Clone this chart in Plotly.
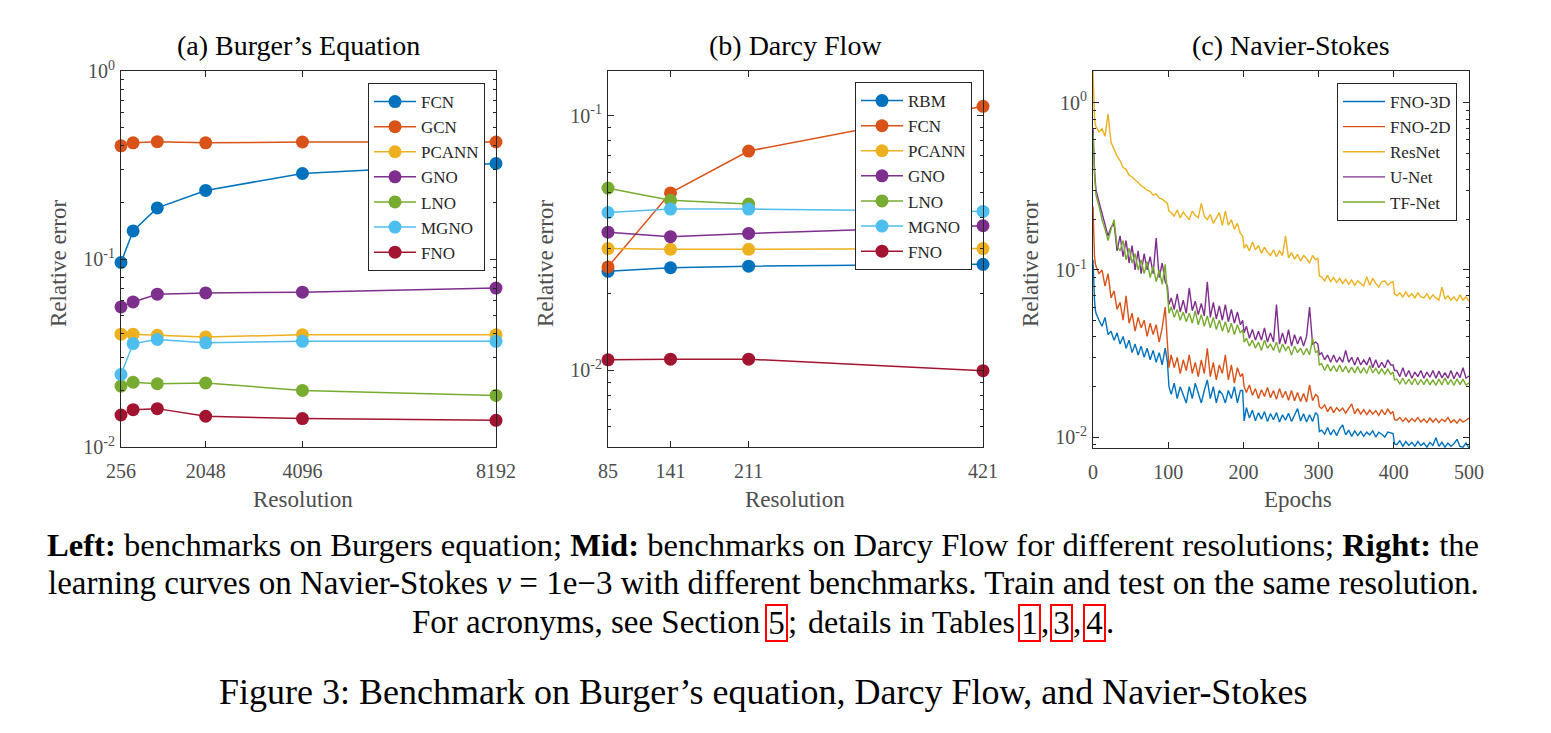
import math
import plotly.graph_objects as go

# page body keeps an 8px margin; the figure is sized to fit inside it
OFF = 8
FW, FH = 1535, 712
SERIF = "Liberation Serif, Times New Roman, serif"
C_BLUE, C_ORANGE, C_YELLOW, C_PURPLE = "#0072BD", "#D95319", "#EDB120", "#7E2F8E"
C_GREEN, C_LBLUE, C_RED = "#77AC30", "#4DBEEE", "#A2142F"
AX = "#262626"
TXT = "#4d4d4d"

# ---------------- (a) Burger's equation ----------------
burgers_res = [256, 512, 1024, 2048, 4096, 8192]
burgers_names = ["FCN", "GCN", "PCANN", "GNO", "LNO", "MGNO", "FNO"]
burgers_fcn = [0.0958, 0.141, 0.187, 0.2315, 0.285, 0.322]
burgers_gcn = [0.400, 0.415, 0.421, 0.415, 0.419, 0.419]
burgers_pcann = [0.0398, 0.0398, 0.0393, 0.0385, 0.0395, 0.0395]
burgers_gno = [0.0556, 0.0591, 0.065, 0.066, 0.0666, 0.070]
burgers_lno = [0.0211, 0.0221, 0.0217, 0.0219, 0.0200, 0.0188]
burgers_mgno = [0.0243, 0.0355, 0.0373, 0.0358, 0.0365, 0.0365]
burgers_fno = [0.0148, 0.0158, 0.0160, 0.01457, 0.01416, 0.01387]

# ---------------- (b) Darcy flow ----------------
darcy_res = [85, 141, 211, 421]
darcy_names = ["RBM", "FCN", "PCANN", "GNO", "LNO", "MGNO", "FNO"]
darcy_rbm = [0.0245, 0.0253, 0.02566, 0.0261]
darcy_fcn = [0.0255, 0.0498, 0.0727, 0.109]
darcy_pcann = [0.0301, 0.0299, 0.0299, 0.0301]
darcy_gno = [0.0349, 0.0335, 0.0345, 0.0370]
darcy_lno_res = [85, 141, 211]
darcy_lno = [0.052, 0.0466, 0.045]
darcy_mgno = [0.0417, 0.0430, 0.0430, 0.0421]
darcy_fno = [0.0110, 0.01107, 0.01107, 0.00997]

# ---------------- (c) Navier-Stokes learning curves ----------------
epochs = ([0, 1, 2, 3] + list(range(4, 97, 4)) + [99, 101] + list(range(104, 197, 4)) + [199, 201]
          + list(range(204, 297, 4)) + [299, 301] + list(range(304, 397, 4)) + [399, 401]
          + list(range(404, 501, 4)))

ns_resnet = [1.55, 0.95, 0.82, 0.75,
             0.72, 0.67, 0.7, 0.63, 0.86, 0.58, 0.53, 0.48, 0.45, 0.41, 0.4, 0.37, 0.36, 0.345, 0.33, 0.32, 0.31, 0.3, 0.295, 0.28, 0.285, 0.27, 0.265, 0.255,
             0.25, 0.225,
             0.22, 0.21, 0.228, 0.205, 0.222, 0.21, 0.2, 0.225, 0.212, 0.205, 0.25, 0.21, 0.2, 0.215, 0.19, 0.205, 0.22, 0.185, 0.225, 0.185, 0.2, 0.175, 0.19, 0.165,
             0.16, 0.135,
             0.142, 0.13, 0.147, 0.132, 0.14, 0.126, 0.137, 0.128, 0.122, 0.132, 0.12, 0.13, 0.122, 0.16, 0.118, 0.127, 0.116, 0.124, 0.113, 0.122, 0.117, 0.11, 0.122, 0.115,
             0.118, 0.092,
             0.091, 0.086, 0.093, 0.085, 0.09, 0.084, 0.089, 0.083, 0.088, 0.082, 0.087, 0.081, 0.086, 0.083, 0.08, 0.091, 0.081, 0.089, 0.083, 0.079, 0.085, 0.086, 0.081, 0.084,
             0.085, 0.072,
             0.07, 0.073, 0.069, 0.074, 0.069, 0.072, 0.068, 0.073, 0.069, 0.068, 0.072, 0.067, 0.071, 0.068, 0.066, 0.079, 0.067, 0.07, 0.066, 0.069, 0.065, 0.071, 0.066, 0.069, 0.065]

ns_unet = [0.70, 0.48, 0.40, 0.34,
           0.3, 0.255, 0.22, 0.19, 0.16, 0.18, 0.19, 0.13, 0.16, 0.12, 0.15, 0.11, 0.14, 0.1, 0.13, 0.095, 0.125, 0.1, 0.12, 0.095, 0.155, 0.09, 0.11, 0.085,
           0.08, 0.062,
           0.068, 0.058, 0.072, 0.056, 0.066, 0.055, 0.078, 0.057, 0.065, 0.054, 0.063, 0.053, 0.085, 0.052, 0.064, 0.051, 0.061, 0.05, 0.062, 0.049, 0.058, 0.048, 0.056, 0.047,
           0.05, 0.042,
           0.046, 0.039, 0.044, 0.038, 0.043, 0.038, 0.045, 0.037, 0.042, 0.037, 0.062, 0.036, 0.042, 0.036, 0.044, 0.035, 0.041, 0.036, 0.04, 0.035, 0.04, 0.06, 0.036, 0.037,
           0.036, 0.031,
           0.032, 0.029, 0.031, 0.028, 0.031, 0.028, 0.03, 0.028, 0.033, 0.028, 0.03, 0.027, 0.03, 0.027, 0.029, 0.027, 0.03, 0.026, 0.029, 0.026, 0.028, 0.026, 0.029, 0.027,
           0.027, 0.025,
           0.025, 0.023, 0.026, 0.023, 0.025, 0.0225, 0.0245, 0.023, 0.025, 0.0225, 0.0245, 0.0228, 0.025, 0.0225, 0.0248, 0.0226, 0.0243, 0.0225, 0.025, 0.0223, 0.0245, 0.0227, 0.026, 0.0225, 0.0232]

ns_tfnet = [0.66, 0.45, 0.37, 0.32,
            0.28, 0.24, 0.2, 0.175, 0.15, 0.175, 0.2, 0.14, 0.13, 0.15, 0.115, 0.135, 0.11, 0.125, 0.1, 0.115, 0.095, 0.112, 0.09, 0.105, 0.085, 0.1, 0.082, 0.108,
            0.075, 0.055,
            0.06, 0.052, 0.058, 0.05, 0.056, 0.049, 0.055, 0.048, 0.057, 0.047, 0.054, 0.046, 0.053, 0.045, 0.052, 0.044, 0.05, 0.043, 0.049, 0.042, 0.048, 0.041, 0.047, 0.042,
            0.044, 0.037,
            0.039, 0.035, 0.038, 0.034, 0.037, 0.033, 0.038, 0.034, 0.036, 0.033, 0.037, 0.032, 0.036, 0.033, 0.035, 0.031, 0.035, 0.032, 0.034, 0.031, 0.034, 0.031, 0.039, 0.032,
            0.033, 0.027,
            0.0275, 0.025, 0.0272, 0.0248, 0.0268, 0.0246, 0.027, 0.0245, 0.0265, 0.0243, 0.0262, 0.0242, 0.0264, 0.0241, 0.026, 0.024, 0.0268, 0.0242, 0.0258, 0.0239, 0.0256, 0.0238, 0.0255, 0.0237,
            0.0245, 0.022,
            0.0222, 0.0208, 0.0225, 0.0207, 0.0222, 0.0206, 0.0224, 0.0205, 0.0221, 0.0206, 0.0223, 0.0205, 0.022, 0.0204, 0.0222, 0.0205, 0.0226, 0.0206, 0.0221, 0.0204, 0.0223, 0.0206, 0.0222, 0.0205, 0.021]

ns_fno2d = [0.24, 0.125, 0.12, 0.11,
            0.105, 0.095, 0.1, 0.08, 0.095, 0.068, 0.075, 0.058, 0.064, 0.05, 0.07, 0.048, 0.055, 0.043, 0.052, 0.045, 0.05, 0.04, 0.048, 0.041, 0.047, 0.037, 0.045, 0.06,
            0.036, 0.026,
            0.031, 0.026, 0.03, 0.024, 0.029, 0.025, 0.031, 0.024, 0.028, 0.023, 0.029, 0.024, 0.034, 0.023, 0.028, 0.022, 0.027, 0.024, 0.031, 0.022, 0.027, 0.021, 0.026, 0.023,
            0.024, 0.02,
            0.0185, 0.0205, 0.0178, 0.0195, 0.017, 0.0192, 0.0175, 0.0198, 0.0172, 0.019, 0.0168, 0.0195, 0.0172, 0.0188, 0.0166, 0.019, 0.0165, 0.0185, 0.0163, 0.0182, 0.0162, 0.0205, 0.0165, 0.018,
            0.0175, 0.0152,
            0.0148, 0.0156, 0.0142, 0.0152, 0.014, 0.015, 0.0143, 0.0149, 0.0139, 0.0147, 0.0158, 0.0138, 0.0148, 0.0137, 0.0146, 0.0136, 0.0145, 0.0137, 0.0144, 0.0135, 0.0146, 0.0136, 0.0147, 0.0138,
            0.0142, 0.0127,
            0.0126, 0.0131, 0.0124, 0.013, 0.0123, 0.0129, 0.0124, 0.0131, 0.0123, 0.0128, 0.0122, 0.013, 0.0123, 0.0129, 0.0122, 0.0128, 0.0124, 0.0131, 0.0122, 0.0127, 0.0121, 0.0128, 0.0123, 0.0126, 0.013]

ns_fno3d = [0.115, 0.08, 0.066, 0.058,
            0.055, 0.05, 0.046, 0.052, 0.041, 0.043, 0.038, 0.042, 0.036, 0.04, 0.034, 0.038, 0.032, 0.036, 0.031, 0.035, 0.03, 0.034, 0.029, 0.033, 0.028, 0.032, 0.027, 0.034,
            0.028, 0.02,
            0.018, 0.021, 0.017, 0.02, 0.018, 0.016, 0.02, 0.017, 0.021, 0.018, 0.016, 0.019, 0.022, 0.017, 0.02, 0.016, 0.019, 0.018, 0.016, 0.019, 0.017, 0.02, 0.016, 0.019,
            0.019, 0.0125,
            0.015, 0.013, 0.0145, 0.0125, 0.014, 0.0128, 0.0142, 0.0124, 0.0138, 0.0127, 0.014, 0.0123, 0.0136, 0.0126, 0.0139, 0.0124, 0.0135, 0.0148, 0.0125, 0.0138, 0.0123, 0.0136, 0.0124, 0.014,
            0.0135, 0.0108,
            0.011, 0.0104, 0.0114, 0.0103, 0.0111, 0.0102, 0.0112, 0.0118, 0.0103, 0.011, 0.0101, 0.0109, 0.0102, 0.0108, 0.0101, 0.0107, 0.0103, 0.0109, 0.01, 0.0107, 0.0104, 0.01, 0.0107, 0.0106,
            0.0105, 0.0091,
            0.009, 0.0095, 0.0088, 0.0094, 0.0089, 0.0093, 0.0088, 0.0094, 0.0089, 0.0092, 0.0087, 0.0093, 0.0089, 0.0099, 0.0088, 0.0093, 0.0087, 0.0092, 0.0088, 0.0091, 0.0097, 0.0088, 0.0087, 0.0092, 0.0086]

ns_names = ["FNO-3D", "FNO-2D", "ResNet", "U-Net", "TF-Net"]

# ---------------- figure ----------------
fig = go.Figure()

colors7 = [C_BLUE, C_ORANGE, C_YELLOW, C_PURPLE, C_GREEN, C_LBLUE, C_RED]
burg_series = [burgers_fcn, burgers_gcn, burgers_pcann, burgers_gno, burgers_lno, burgers_mgno, burgers_fno]
for name, ys, col in zip(burgers_names, burg_series, colors7):
    fig.add_trace(go.Scatter(x=burgers_res, y=ys, name=name, mode="lines+markers",
                             line=dict(color=col, width=1.5), marker=dict(color=col, size=13),
                             cliponaxis=False, xaxis="x", yaxis="y", legend="legend"))

darcy_series = [(darcy_res, darcy_rbm), (darcy_res, darcy_fcn), (darcy_res, darcy_pcann), (darcy_res, darcy_gno),
                (darcy_lno_res, darcy_lno), (darcy_res, darcy_mgno), (darcy_res, darcy_fno)]
for name, (xs, ys), col in zip(darcy_names, darcy_series, colors7):
    fig.add_trace(go.Scatter(x=xs, y=ys, name=name, mode="lines+markers",
                             line=dict(color=col, width=1.5), marker=dict(color=col, size=13),
                             cliponaxis=False, xaxis="x2", yaxis="y2", legend="legend2"))

ns_series = [ns_fno3d, ns_fno2d, ns_resnet, ns_unet, ns_tfnet]
ns_colors = [C_BLUE, C_ORANGE, C_YELLOW, C_PURPLE, C_GREEN]
for name, ys, col in zip(ns_names, ns_series, ns_colors):
    fig.add_trace(go.Scatter(x=epochs, y=ys, name=name, mode="lines",
                             line=dict(color=col, width=1.4),
                             xaxis="x3", yaxis="y3", legend="legend3"))


def px_x(p):
    return (p - OFF) / FW


def px_y(p):
    return 1 - (p - OFF) / FH


def minor_vals(lo_exp, hi_exp):
    vals = []
    for e in range(lo_exp, hi_exp + 1):
        for m in range(2, 10):
            vals.append(m * 10 ** e)
    return vals


base_axis = dict(showline=True, linecolor=AX, linewidth=1, mirror="ticks", ticks="inside",
                 ticklen=6, tickwidth=1, tickcolor=AX, showgrid=False, zeroline=False,
                 automargin=False, tickfont=dict(family=SERIF, size=20, color=TXT))

ydom_top = px_y(71)
ydom_bot = px_y(447)

fig.update_layout(
    width=FW, height=FH, margin=dict(l=0, r=0, t=0, b=0, pad=0, autoexpand=False),
    autosize=False,
    paper_bgcolor="white", plot_bgcolor="white",
    font=dict(family=SERIF, color=TXT),
    xaxis=dict(base_axis, domain=[px_x(121), px_x(496)], range=[256, 8192],
               tickmode="array", tickvals=[256, 2048, 4096, 8192], ticklabelstandoff=6, anchor="y"),
    yaxis=dict(base_axis, domain=[ydom_bot, ydom_top], type="log", range=[-2, 0],
               tickmode="array", tickvals=[0.01, 0.1, 1],
               ticktext=["10<sup>-2</sup>", "10<sup>-1</sup>", "10<sup>0</sup>"],
               minor=dict(ticks="inside", ticklen=3, tickcolor=AX, tickmode="array",
                          tickvals=minor_vals(-2, -1)),
               ticklabelstandoff=1, anchor="x"),
    xaxis2=dict(base_axis, domain=[px_x(608), px_x(983)], range=[85, 421],
                tickmode="array", tickvals=[85, 141, 211, 421], ticklabelstandoff=6, anchor="y2"),
    yaxis2=dict(base_axis, domain=[ydom_bot, ydom_top], type="log",
                range=[math.log10(0.005), math.log10(0.15)],
                tickmode="array", tickvals=[0.01, 0.1],
                ticktext=["10<sup>-2</sup>", "10<sup>-1</sup>"],
                minor=dict(ticks="inside", ticklen=3, tickcolor=AX, tickmode="array",
                           tickvals=minor_vals(-3, -1)),
                ticklabelstandoff=1, anchor="x2"),
    xaxis3=dict(base_axis, domain=[px_x(1093), px_x(1469)], range=[0, 500],
                tickmode="array", tickvals=[0, 100, 200, 300, 400, 500], ticklabelstandoff=6, anchor="y3"),
    yaxis3=dict(base_axis, domain=[px_y(448), ydom_top], type="log",
                range=[math.log10(0.0086), math.log10(1.55)],
                tickmode="array", tickvals=[0.01, 0.1, 1],
                ticktext=["10<sup>-2</sup>", "10<sup>-1</sup>", "10<sup>0</sup>"],
                minor=dict(ticks="inside", ticklen=3, tickcolor=AX, tickmode="array",
                           tickvals=minor_vals(-3, 0)),
                ticklabelstandoff=1, anchor="x3"),
    showlegend=True,
)

leg_common = dict(xanchor="right", yanchor="top", bordercolor=AX, borderwidth=1, bgcolor="white",
                  font=dict(family=SERIF, size=17, color=AX), tracegroupgap=0, itemwidth=42)
fig.update_layout(
    legend=dict(leg_common, x=px_x(485), y=px_y(83)),
    legend2=dict(leg_common, x=px_x(972), y=px_y(82)),
    legend3=dict(leg_common, x=px_x(1457), y=px_y(83)),
)

annotations = []


def add_text(text, x, y, size, color="black", angle=0, xanchor="center", **kw):
    annotations.append(dict(text=text, x=px_x(x), y=px_y(y), xref="paper", yref="paper",
                            showarrow=False, xanchor=xanchor, yanchor="middle", textangle=angle,
                            font=dict(family=SERIF, size=size, color=color), **kw))


# panel titles
add_text("(a) Burger’s Equation", 298, 45, 28)
add_text("(b) Darcy Flow", 795, 45, 28)
add_text("(c) Navier-Stokes", 1291, 45, 28)
# axis titles
add_text("Resolution", 303, 499, 23, TXT)
add_text("Resolution", 795, 499, 23, TXT)
add_text("Epochs", 1298, 499, 23, TXT)
add_text("Relative error", 58, 264, 23, TXT, angle=-90)
add_text("Relative error", 545, 264, 23, TXT, angle=-90)
add_text("Relative error", 1030, 264, 23, TXT, angle=-90)

# caption
add_text("<b>Left:</b> benchmarks on Burgers equation; <b>Mid:</b> benchmarks on Darcy Flow for different resolutions; <b>Right:</b> the",
         763, 545, 32.6)
add_text("learning curves on Navier-Stokes <i>ν</i> = 1e−3 with different benchmarks. Train and test on the same resolution.",
         763, 583, 33)
BOX = dict(bordercolor="#ff0000", borderwidth=2, width=19, height=34, borderpad=0)
add_text("For acronyms, see Section", 762, 622, 33, xanchor="right")
add_text("5", 776.5, 623, 33, **BOX)
add_text(";", 786, 622, 33, xanchor="left")
add_text("details in Tables", 1017, 622, 32, xanchor="right")
add_text("1", 1029.5, 623, 33, **BOX)
add_text(",", 1039, 622, 33, xanchor="left")
add_text("3", 1061.5, 623, 33, **BOX)
add_text(",", 1071, 622, 33, xanchor="left")
add_text("4", 1094.5, 623, 33, **BOX)
add_text(".", 1104, 622, 33, xanchor="left")
add_text("Figure 3: Benchmark on Burger’s equation, Darcy Flow, and Navier-Stokes", 763, 692, 36)

fig.update_layout(annotations=annotations)

fig.write_html("out.html")
